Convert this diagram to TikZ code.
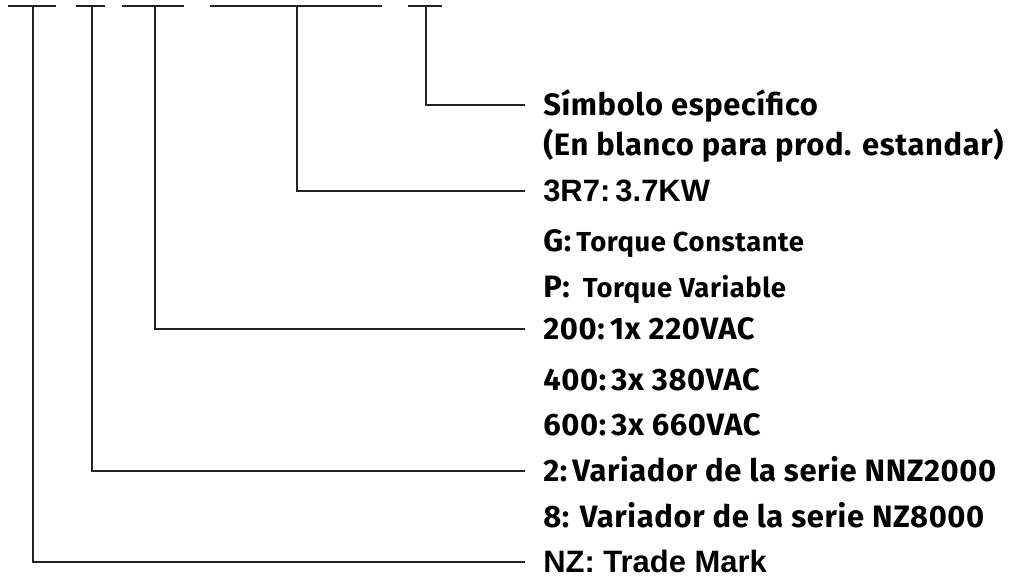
\documentclass[tikz,border=0pt]{standalone}
\usepackage{fontspec}
\setmainfont{Fira Sans}[LetterSpace=2]
\newfontfamily\arialfont{Liberation Sans}

\definecolor{inkgray}{HTML}{222222}
\newcommand{\smalltxt}{\fontsize{19.5}{23}\selectfont}

\begin{document}
\begin{tikzpicture}[x=0.025cm,y=-0.025cm,
    lbl/.style={anchor=west,inner xsep=0.45cm,inner ysep=0pt,text height=15pt,text depth=0pt,
      font=\bfseries\fontsize{22}{26}\selectfont},
    bar/.style={inkgray,line width=1.9pt},
    lead/.style={inkgray,line width=1.4pt}]
  \useasboundingbox (0,0) rectangle (1015,578);
  % code fields
  \draw[bar] (8,6) -- (56,6);
  \draw[bar] (76,6) -- (105,6);
  \draw[bar] (122,6) -- (184,6);
  \draw[bar] (210,6) -- (382,6);
  \draw[bar] (408,6) -- (442,6);
  \coordinate (f1) at (33,6);
  \coordinate (f2) at (92,6);
  \coordinate (f3) at (155,6);
  \coordinate (f4) at (297,6);
  \coordinate (f5) at (426,6);
  % meanings
  \node[lbl] (simbolo) at (525,105) {Símbolo específico};
  \node[lbl] (blanco) at (525,145) {(En blanco para prod. estandar)};
  \node[lbl] (potencia) at (525,191) {\arialfont 3R7:\,3.7KW};
  \node[lbl] (par-g) at (525,241) {G:\,{\smalltxt Torque Constante}};
  \node[lbl] (par-p) at (525,287) {P:\, {\smalltxt Torque Variable}};
  \node[lbl] (v200) at (525,329) {200:\,1x 220VAC};
  \node[lbl] (v400) at (525,380) {400:\,3x 380VAC};
  \node[lbl] (v600) at (525,425) {600:\,3x 660VAC};
  \node[lbl] (serie2) at (525,471) {2:\,Variador de la serie NNZ2000};
  \node[lbl] (serie8) at (525,517) {8: Variador de la serie NZ8000};
  \node[lbl] (marca) at (525,562) {\arialfont NZ: Trade Mark};
  % leaders
  \draw[lead] (f5) |- (simbolo.west);
  \draw[lead] (f4) |- (potencia.west);
  \draw[lead] (f3) |- (v200.west);
  \draw[lead] (f2) |- (serie2.west);
  \draw[lead] (f1) |- (marca.west);
\end{tikzpicture}
\end{document}
